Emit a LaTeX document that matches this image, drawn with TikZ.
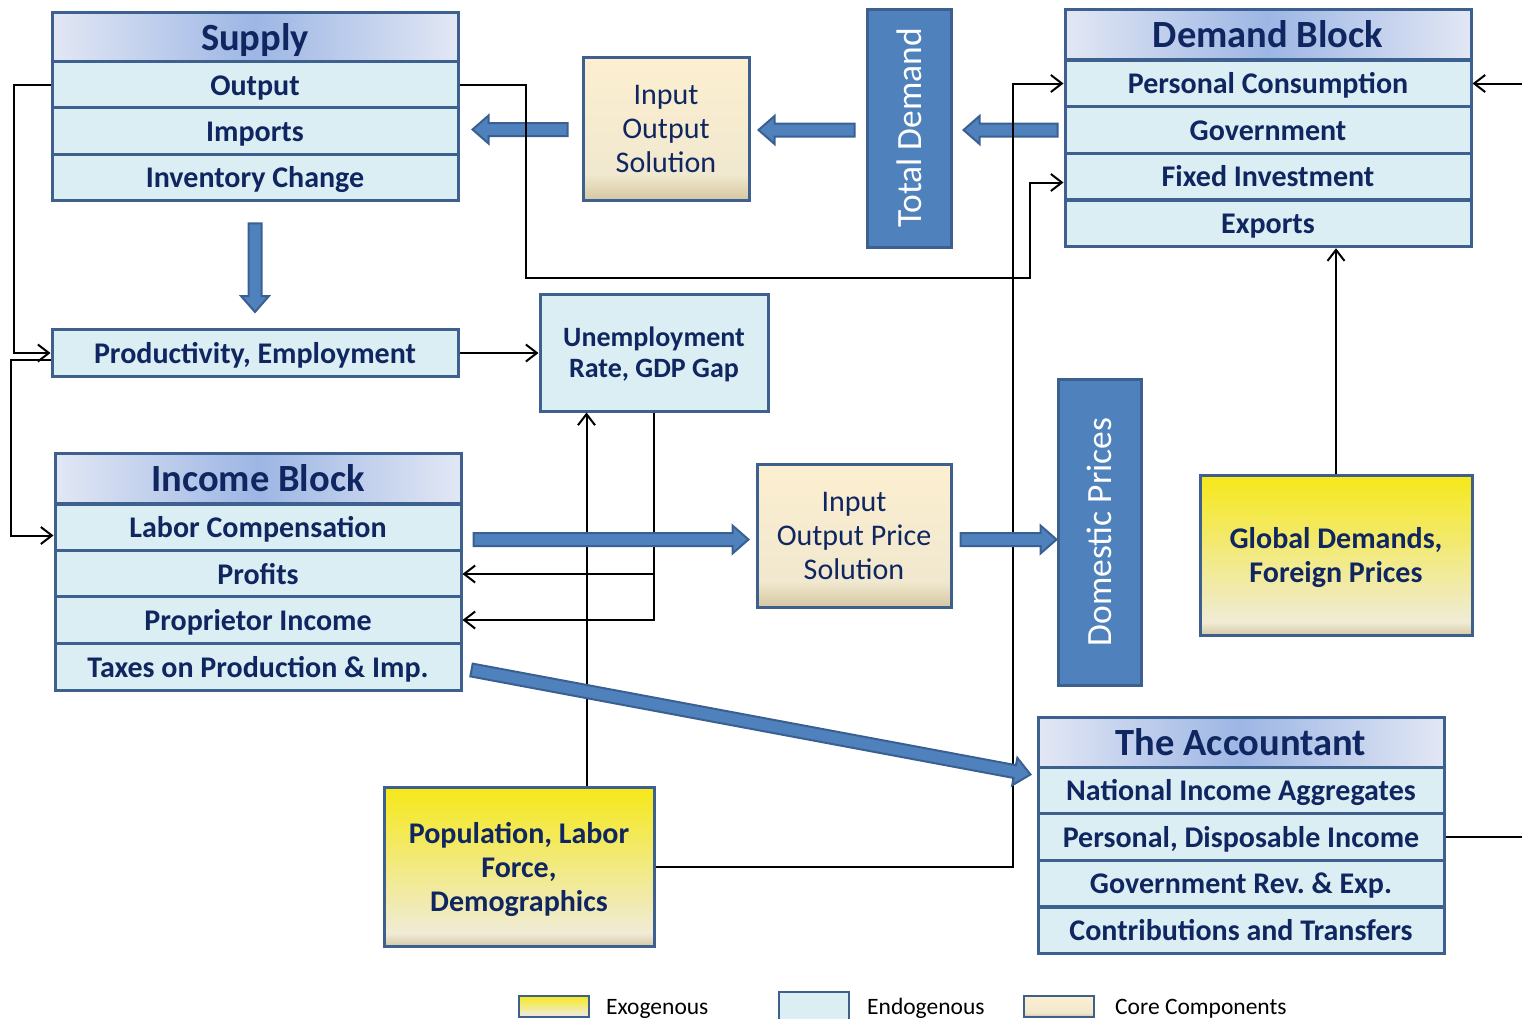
\documentclass[tikz,border=0pt]{standalone}
\usepackage{fontspec}
\setmainfont{Carlito}
\usepackage{tikz}
\usetikzlibrary{arrows.meta,calc}

\definecolor{navy}{RGB}{16,38,96}
\definecolor{boxedge}{RGB}{62,96,143}
\definecolor{rowfill}{RGB}{219,238,244}
\definecolor{hdredge}{RGB}{226,231,244}
\definecolor{hdrmid}{RGB}{157,182,228}
\definecolor{barblue}{RGB}{79,129,189}
\definecolor{arrowedge}{RGB}{58,96,146}
\definecolor{exotop}{RGB}{246,232,24}
\definecolor{exomid}{RGB}{241,234,150}
\definecolor{exopale}{RGB}{240,235,214}
\definecolor{exobot}{RGB}{214,201,165}
\definecolor{coretop}{RGB}{253,239,208}
\definecolor{coremid}{RGB}{240,232,207}
\definecolor{corebot}{RGB}{213,199,161}

\pgfdeclareverticalshading{exoshade}{100bp}{color(0bp)=(exobot); color(25bp)=(exobot); color(29bp)=(exopale); color(45bp)=(exomid); color(75bp)=(exotop); color(100bp)=(exotop)}
\pgfdeclareverticalshading{coreshade}{100bp}{color(0bp)=(corebot); color(25bp)=(corebot); color(34bp)=(coremid); color(75bp)=(coretop); color(100bp)=(coretop)}

\tikzset{
  hdr/.style={draw=boxedge, line width=3pt, left color=hdredge, right color=hdredge, middle color=hdrmid,
    text=navy, font=\bfseries\fontsize{38.5}{40}\selectfont, minimum width=406pt, minimum height=50pt,
    text height=30pt, text depth=4pt, inner sep=0pt},
  row/.style={draw=boxedge, line width=3pt, fill=rowfill, text=navy, font=\bfseries\fontsize{30}{34}\selectfont,
    minimum width=406pt, minimum height=46.5pt, text height=24pt, text depth=4pt, inner sep=0pt},
  core/.style={draw=boxedge, line width=3pt, shading=coreshade, text=navy, font=\fontsize{30}{34}\selectfont,
    align=center, inner sep=0pt},
  exo/.style={draw=boxedge, line width=3pt, shading=exoshade, text=navy, font=\bfseries\fontsize{30}{34}\selectfont,
    align=center, text depth=0pt, inner sep=0pt},
  endo/.style={draw=boxedge, line width=3pt, fill=rowfill, text=navy, font=\bfseries\fontsize{28}{31}\selectfont,
    align=center, text depth=0pt, inner sep=0pt},
  bar/.style={draw=boxedge, line width=3pt, fill=barblue, text=white, font=\fontsize{35.5}{38}\selectfont, inner sep=0pt},
  legtext/.style={anchor=base west, font=\fontsize{23.5}{26}\selectfont, inner sep=0pt},
  wire/.style={line width=2pt},
  link/.style={wire, -{Straight Barb[length=11pt,width=17pt]}},
  blockarrow/.style={draw=arrowedge, fill=barblue, line width=2pt}
}

% thick blue arrow from #1 to #2
\newcommand{\bigarrow}[2]{%
  \filldraw[blockarrow] let \p1=(#1), \p2=(#2),
      \n1={veclen(\x2-\x1,\y2-\y1)}, \n2={atan2(\y2-\y1,\x2-\x1)} in
    [shift={(\p1)}, rotate=\n2] (0pt,-6.5pt) -- (\n1-16pt,-6.5pt) -- (\n1-16pt,-14pt) -- (\n1,0pt)
    -- (\n1-16pt,14pt) -- (\n1-16pt,6.5pt) -- (0pt,6.5pt) -- cycle;}

\begin{document}
\begin{tikzpicture}[x=1pt,y=-1pt]
  \useasboundingbox (0,0) rectangle (1522,1018);

  % Supply block
  \node[hdr] (supply) at (255,37) {Supply};
  \node[row] (sout) at (255,85) {Output};
  \node[row] (simp) at (255,131) {Imports};
  \node[row] (sinv) at (255,177.5) {Inventory Change};

  % Demand block
  \node[hdr] (demand) at (1268,34.5) {Demand Block};
  \node[row] (pce) at (1268,83.5) {Personal Consumption};
  \node[row] (gov) at (1268,130) {Government};
  \node[row] (fixinv) at (1268,176.5) {Fixed Investment};
  \node[row] (exports) at (1268,223.5) {Exports};

  % Income block
  \node[hdr] (income) at (258,478.5) {Income Block};
  \node[row] (labcomp) at (258,527.5) {Labor Compensation};
  \node[row] (profits) at (258,574) {Profits};
  \node[row] (propinc) at (258,620) {Proprietor Income};
  \node[row] (taxes) at (258,667) {Taxes on Production \& Imp.};

  % The Accountant
  \node[hdr] (acct) at (1241,742) {The Accountant};
  \node[row] (nia) at (1241,790.5) {National Income Aggregates};
  \node[row] (pdi) at (1241,837) {Personal, Disposable Income};
  \node[row] (govrev) at (1241,883.5) {Government Rev.\ \& Exp.};
  \node[row] (contrib) at (1241,930.5) {Contributions and Transfers};

  % Other boxes
  \node[core, minimum width=166pt, minimum height=143pt] (ios) at (666,128.5) {Input\\Output\\Solution};
  \node[bar, minimum width=84pt, minimum height=238pt] (totdem) at (909,128) {\rotatebox{90}{Total Demand}};
  \node[row, minimum height=47pt] (prod) at (255,353) {Productivity, Employment};
  \node[endo, minimum width=228pt, minimum height=117pt] (unemp) at (654,352.5) {Unemployment\\Rate, GDP Gap};
  \node[core, minimum width=194pt, minimum height=143pt] (iop) at (854,535.5) {Input\\Output Price\\Solution};
  \node[bar, minimum width=83pt, minimum height=306pt] (domprice) at (1099.5,532) {\rotatebox{90}{Domestic Prices}};
  \node[exo, minimum width=272pt, minimum height=160pt] (global) at (1336,555) {Global Demands,\\Foreign Prices};
  \node[exo, minimum width=270pt, minimum height=159pt] (pop) at (519,866.5) {Population, Labor\\Force,\\Demographics};
  \coordinate (redge) at (1522,84);

  % Legend
  \node[exo, line width=2pt, minimum width=70pt, minimum height=21pt] (legexo) at (554,1006) {};
  \node[legtext] (legexotxt) at (606,1014) {Exogenous};
  \node[row, line width=2pt, minimum width=70pt, minimum height=21pt] (legendo) at (813.5,1006) {};
  \node[legtext] (legendotxt) at (867,1014) {Endogenous};
  \node[core, line width=2pt, minimum width=70pt, minimum height=21pt] (legcore) at (1058.5,1006) {};
  \node[legtext] (legcoretxt) at (1115,1014) {Core Components};

  % Draw block arrows (under the lines)
  \bigarrow{$(ios.west)+(-14,1)$}{$(simp.east|-ios.west)+(13,1)$}
  \bigarrow{$(totdem.west)+(-11,2)$}{$(ios.east|-totdem.west)+(8,2)$}
  \bigarrow{$(gov.west)+(-6,0)$}{$(totdem.east|-gov.west)+(11,0)$}
  \bigarrow{$(sinv.south)+(0,21)$}{$(prod.north)+(0,-16)$}

  % Draw connectors
  \draw[link] (sout.west) -- ++(-37,0) |- (prod.west);
  \draw[link] ($(prod.west)+(0,7)$) -- ++(-40,0) |- ($(labcomp.west)+(0,8)$);
  \draw[link] (prod.east) -- (prod.east -| unemp.west);
  \draw[link] (unemp.south) |- (propinc.east);
  \draw[link] (unemp.south |- profits.east) -- (profits.east);
  \draw[link] ($(pop.north east)+(-69,0)$) coordinate (popup) -- (popup |- unemp.south);
  \draw[link] (pop.east) -- ++(357,0) |- (pce.west);
  \draw[link] (sout.east) -- ++(66,0) -- ++(0,193) -| ($(fixinv.west)+(-34,6)$) -- ($(fixinv.west)+(0,6)$);
  \draw[link] (global.north) -- (global.north |- exports.south);
  \draw[link] (pce.east -| redge) -- (pce.east);
  \draw[wire] (pdi.east) -- (pdi.east -| redge);

  % Draw block arrows (over the lines)
  \bigarrow{$(labcomp.east)+(11,12)$}{$(iop.west|-labcomp.east)+(-7,12)$}
  \bigarrow{$(iop.east)+(8,4)$}{$(domprice.west|-iop.east)+(0,4)$}
  \bigarrow{$(taxes.east)+(9,3)$}{$(acct.south west)+(-6,6)$}
\end{tikzpicture}
\end{document}
